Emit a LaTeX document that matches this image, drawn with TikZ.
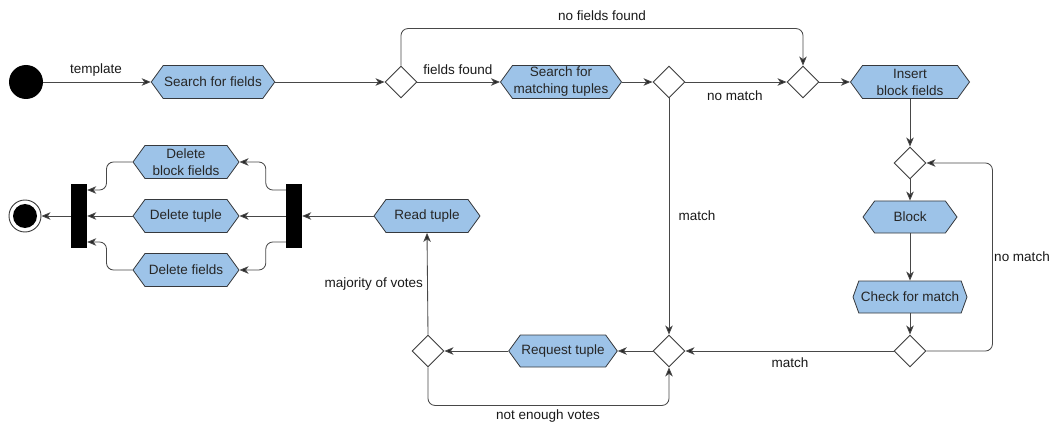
\documentclass[tikz,border=0pt]{standalone}
\usepackage{fontspec}
\setmainfont{Liberation Sans}
\usetikzlibrary{shapes.geometric,shapes.symbols,arrows.meta}
\definecolor{hexfill}{RGB}{157,195,232}
\definecolor{hexline}{RGB}{54,57,61}
\definecolor{wire}{RGB}{72,72,72}
\definecolor{rhomb}{RGB}{60,60,60}
\begin{document}
\begin{tikzpicture}[x=1pt,y=-1pt,
  font=\fontsize{13.5}{17}\selectfont,
  action/.style={signal, signal to=east and west, signal pointer angle=108,
    draw=hexline, fill=hexfill, line width=0.8pt, minimum height=33pt,
    inner xsep=1pt, inner ysep=0.5pt, align=center, text=black!85},
  choice/.style={diamond, draw=rhomb, fill=white, line width=0.9pt,
    minimum width=32pt, minimum height=32pt, inner sep=0pt},
  bar/.style={rectangle, fill=black, minimum width=16pt, minimum height=64pt, inner sep=0pt},
  flow/.style={draw=wire, line width=0.85pt, rounded corners=7pt,
    -{Stealth[length=9pt,width=7.5pt,inset=2.5pt,fill=black!85]}},
  lbl/.style={inner sep=0pt, text=black!90}]
\useasboundingbox (0,0) rectangle (1053,425);

% states and actions
\node[circle, fill=black, minimum size=34pt, inner sep=0pt] (start) at (26,82) {};
\node[action, minimum width=120pt] (search) at (213,82) {Search for fields};
\node[choice] (d1) at (401,82) {};
\node[action, minimum width=121pt] (match) at (561,82) {Search for\\matching tuples};
\node[choice] (d2) at (669,82) {};
\node[choice] (d3) at (803,82) {};
\node[action, minimum width=119pt] (insert) at (910,82) {Insert\\block fields};
\node[choice] (d4) at (910,163) {};
\node[action, minimum width=94pt, minimum height=32pt] (block) at (910,217) {Block};
\node[action, signal pointer angle=140, minimum width=114pt, minimum height=32pt] (check) at (910,297) {Check for match};
\node[choice] (d5) at (910,351) {};
\node[choice] (d6) at (669,351) {};
\node[action, minimum width=106pt, minimum height=32pt] (req) at (563,351) {Request tuple};
\node[choice] (d7) at (428,351) {};
\node[action, minimum width=106pt] (read) at (427,216) {Read tuple};
\node[bar] (fork) at (294,216) {};
\node[action, minimum width=106pt] (del1) at (186,162) {Delete\\block fields};
\node[action, minimum width=106pt] (del2) at (186,216) {Delete tuple};
\node[action, minimum width=106pt] (del3) at (186,270) {Delete fields};
\node[bar] (join) at (79,216) {};
\node[circle, draw=rhomb, fill=white, line width=0.9pt, minimum size=32pt, inner sep=0pt] (end) at (25,216) {};
\node[circle, fill=black, minimum size=24pt, inner sep=0pt] (endcore) at (end.center) {};

% connectors
\draw[flow] (start.east) -- (search.west);
\draw[flow] (search.east) -- (d1.west);
\draw[flow] (d1.east) -- (match.west);
\draw[flow] (match.east) -- (d2.west);
\draw[flow] (d2.east) -- (d3.west);
\draw[flow] (d1.north) -- ++(0,-37) -| (d3.north);
\draw[flow] (d3.east) -- (insert.west);
\draw[flow] (insert.south) -- (d4.north);
\draw[flow] (d4.south) -- (block.north);
\draw[flow] (block.south) -- (check.north);
\draw[flow] (check.south) -- (d5.north);
\draw[flow] (d5.east) -- ++(66,0) |- (d4.east);
\draw[flow] (d5.west) -- (d6.east);
\draw[flow] (d2.south) -- (d6.north);
\draw[flow] (d6.west) -- (req.east);
\draw[flow] (req.west) -- (d7.east);
\draw[flow] (d7.south) -- ++(0,38) -| (d6.south);
\draw[flow] (d7.north) -- (read.south);
\draw[flow] (read.west) -- (fork.east);
\draw[flow] (fork.west) -- (del2.east);
\draw[flow] ([yshift=26pt]fork.west) -- ++(-20,0) |- (del1.east);
\draw[flow] ([yshift=-26pt]fork.west) -- ++(-20,0) |- (del3.east);
\draw[flow] (del1.west) -- ++(-26,0) |- ([yshift=26pt]join.east);
\draw[flow] (del2.west) -- (join.east);
\draw[flow] (del3.west) -- ++(-26,0) |- ([yshift=-26pt]join.east);
\draw[flow] (join.west) -- (end.east);

% guard labels
\node[lbl] (l-template) at (96,70) {template};
\node[lbl] (l-found) at (458,70) {fields found};
\node[lbl] (l-notfound) at (602,16) {no fields found};
\node[lbl] (l-nomatch1) at (735,96) {no match};
\node[lbl] (l-nomatch2) at (1022,257) {no match};
\node[lbl] (l-match1) at (697,216) {match};
\node[lbl] (l-match2) at (790,363) {match};
\node[lbl, anchor=east] (l-majority) at (423,284) {majority of votes};
\node[lbl] (l-votes) at (548,416) {not enough votes};
\end{tikzpicture}
\end{document}
